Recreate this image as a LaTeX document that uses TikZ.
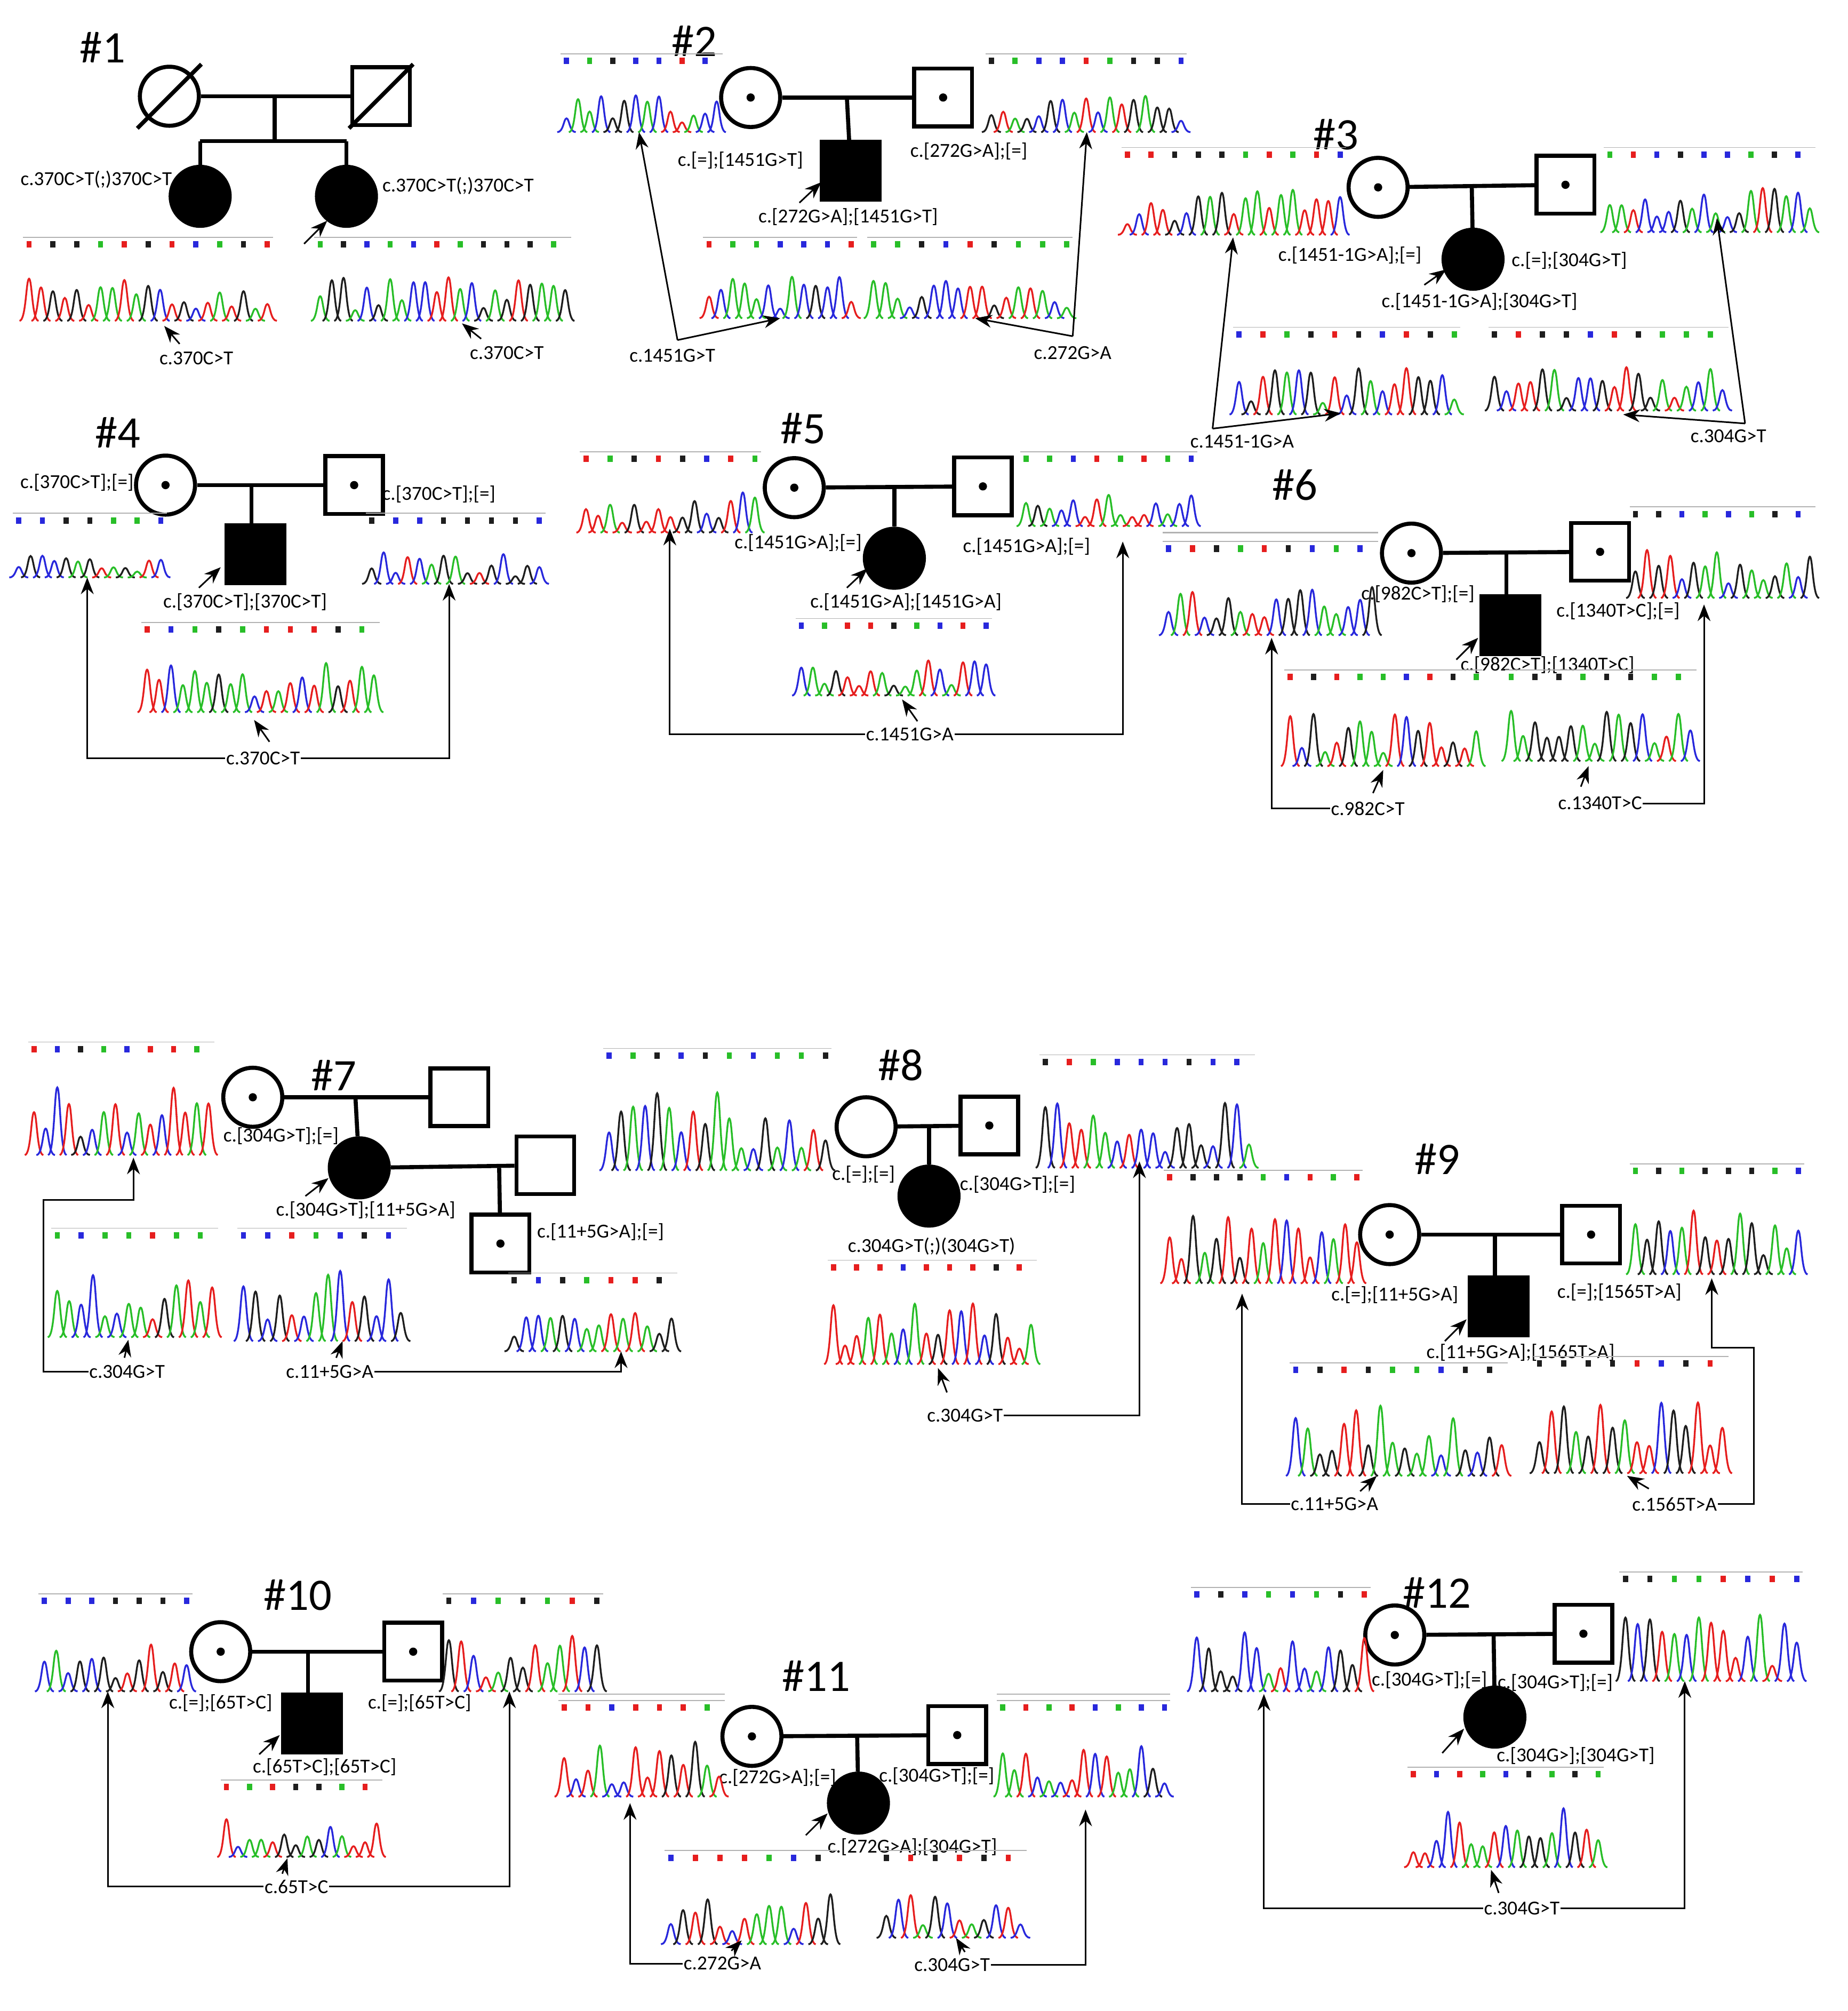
\documentclass[tikz,border=0pt]{standalone}
\usepackage{fontspec}
\setmainfont{Carlito}
\usetikzlibrary{arrows.meta}
\begin{document}
\begin{tikzpicture}[x=0.1mm,y=-0.1mm,
 fem/.style={circle,draw,minimum size=4.6mm,inner sep=0,line width=0.9pt},
 mal/.style={rectangle,draw,minimum size=4.5mm,inner sep=0,line width=0.9pt},
 aff/.style={fill=black},
 ln/.style={line width=0.9pt},
 txt/.style={font=\fontsize{4.4}{5}\selectfont,inner sep=0},
 big/.style={font=\fontsize{10}{12}\selectfont,inner sep=0},
 arr/.style={line width=0.35pt,-{Stealth[length=1.3mm,width=1mm]}},
 br/.style={line width=0.35pt}]
\useasboundingbox (0,0) rectangle (1440,1567);
\fill[white] (0,0) rectangle (1440,1567);
\definecolor{cA}{RGB}{40,190,40}\definecolor{cC}{RGB}{40,40,220}
\definecolor{cG}{RGB}{30,30,30}\definecolor{cT}{RGB}{230,30,30}
\newcommand\chrom[5]{%
 \pgfmathsetseed{#5}%
 \pgfmathsetmacro\cw{#3-#1}%
 \pgfmathtruncatemacro\np{\cw/9}%
 \pgfmathsetmacro\dx{\cw/\np}%
 \draw[gray!60,line width=0.2pt] (#1,#2-3) -- (#3,#2-3);
 \foreach \i in {1,...,\np}{%
   \pgfmathsetmacro\px{#1+(\i-0.5)*\dx}%
   \pgfmathtruncatemacro\ci{random(1,4)}%
   \pgfmathsetmacro\ht{(#4-#2-24)*(0.2+0.7*rnd)}%
   \ifcase\ci\or\def\cc{cA}\or\def\cc{cC}\or\def\cc{cG}\or\def\cc{cT}\fi
   \draw[\cc,line width=0.4pt] (\px-\dx*0.8,#4) .. controls (\px-\dx*0.25,#4) and (\px-\dx*0.25,#4-\ht) .. (\px,#4-\ht) .. controls (\px+\dx*0.25,#4-\ht) and (\px+\dx*0.25,#4) .. (\px+\dx*0.8,#4);
   \pgfmathtruncatemacro\sk{mod(\i,2)}%
   \ifnum\sk=1 \fill[\cc] (\px-2,#2) rectangle +(4,5);\fi
 }}
\newcommand\dotc[1]{\fill (#1) circle (3.2);}
% ---------- #1
\node[big] at (80,37) {\#1};
\node[fem] (p1a) at (132,75) {};\node[mal] (p1b) at (297,75) {};
\draw[ln] (107,100) -- (157,50); \draw[ln] (272,100) -- (322,50);
\node[fem,aff] (c1a) at (156,153) {};\node[fem,aff] (c1b) at (270,153) {};
\draw[ln] (p1a) -- (p1b); \draw[ln] (214,75) -- (214,110); \draw[ln] (156,110) -- (270,110);
\draw[ln] (156,110) -- (c1a); \draw[ln] (270,110) -- (c1b);
\node[txt] at (75,140) {c.370C>T(;)370C>T};\node[txt] at (357,145) {c.370C>T(;)370C>T};
\draw[arr] (237,190) -- (255,172);
\chrom{18}{188}{213}{250}{11}\chrom{245}{188}{445}{250}{12}
\node[txt] at (153,279) {c.370C>T};\draw[arr] (140,268) -- (128,254);
\node[txt] at (395,275) {c.370C>T};\draw[arr] (375,264) -- (360,252);
% ---------- #2
\node[big] at (541,32) {\#2};
\node[fem] (p2a) at (585,76) {};\node[mal] (p2b) at (735,76) {};\dotc{p2a}\dotc{p2b}
\node[mal,aff] (c2) at (663,133) {};
\draw[ln] (p2a) -- (p2b); \draw[ln] (660,76) -- (c2);
\node[txt] at (577,125) {c.[=];[1451G>T]};\node[txt] at (755,118) {c.[272G>A];[=]};
\node[txt] at (661,169) {c.[272G>A];[1451G>T]};\draw[arr] (623,158) -- (640,142);
\chrom{437}{45}{563}{103}{21}\chrom{768}{45}{925}{103}{22}\chrom{548}{188}{668}{248}{23}\chrom{676}{188}{836}{248}{24}
\node[txt] at (524,277) {c.1451G>T};\draw[arr] (528,265) -- (498,103);\draw[arr] (528,265) -- (608,248);
\node[txt] at (836,275) {c.272G>A};\draw[arr] (836,262) -- (760,248);\draw[arr] (836,262) -- (847,103);
% ---------- #3
\node[big] at (1041,105) {\#3};
\node[fem] (p3a) at (1074,146) {};\node[mal] (p3b) at (1220,144) {};\dotc{p3a}\dotc{p3b}
\node[fem,aff] (c3) at (1148,202) {};
\draw[ln] (p3a) -- (p3b); \draw[ln] (1147,145) -- (c3);
\node[txt] at (1052,199) {c.[1451-1G>A];[=]};\node[txt] at (1223,203) {c.[=];[304G>T]};
\node[txt] at (1153,235) {c.[1451-1G>A];[304G>T]};\draw[arr] (1110,222) -- (1127,210);
\chrom{874}{118}{1049}{183}{31}\chrom{1250}{118}{1415}{181}{32}\chrom{961}{258}{1138}{323}{33}\chrom{1160}{258}{1347}{320}{34}
\node[txt] at (968,344) {c.1451-1G>A};\draw[arr] (945,334) -- (961,185);\draw[arr] (945,334) -- (1045,322);
\node[txt] at (1347,340) {c.304G>T};\draw[arr] (1360,330) -- (1265,323);\draw[arr] (1360,330) -- (1338,170);
% ---------- #4
\node[big] at (92,337) {\#4};
\node[fem] (p4a) at (129,378) {};\node[mal] (p4b) at (276,378) {};\dotc{p4a}\dotc{p4b}
\node[mal,aff] (c4) at (199,432) {};
\draw[ln] (p4a) -- (p4b); \draw[ln] (196,378) -- (196,409);
\node[txt] at (60,376) {c.[370C>T];[=]};\node[txt] at (342,385) {c.[370C>T];[=]};
\node[txt] at (191,469) {c.[370C>T];[370C>T]};\draw[arr] (155,458) -- (172,442);
\chrom{10}{403}{130}{450}{41}\chrom{285}{403}{425}{455}{42}\chrom{110}{488}{296}{555}{43}
\node[txt] (t4) at (205,591) {c.370C>T};\draw[arr] (210,578) -- (198,561);
\draw[br,arr] (t4.west) -- (68,591) -- (68,450);\draw[br,arr] (t4.east) -- (350,591) -- (350,455);
% ---------- #5
\node[big] at (626,334) {\#5};
\node[fem] (p5a) at (619,380) {};\node[mal] (p5b) at (766,379) {};\dotc{p5a}\dotc{p5b}
\node[fem,aff] (c5) at (697,435) {};
\draw[ln] (p5a) -- (p5b); \draw[ln] (697,380) -- (c5);
\node[txt] at (622,423) {c.[1451G>A];[=]};\node[txt] at (800,426) {c.[1451G>A];[=]};
\node[txt] at (706,469) {c.[1451G>A];[1451G>A]};\draw[arr] (660,458) -- (676,443);
\chrom{452}{355}{593}{415}{51}\chrom{795}{355}{933}{410}{52}\chrom{620}{485}{773}{542}{53}
\node[txt] (t5) at (709,572) {c.1451G>A};\draw[arr] (715,562) -- (703,545);
\draw[br,arr] (t5.west) -- (522,572) -- (522,412);\draw[br,arr] (t5.east) -- (875,572) -- (875,422);
% ---------- #6
\node[big] at (1009,378) {\#6};
\node[fem] (p6a) at (1100,431) {};\node[mal] (p6b) at (1247,430) {};\dotc{p6a}\dotc{p6b}
\node[mal,aff] (c6) at (1177,487) {};
\draw[ln] (p6a) -- (p6b); \draw[ln] (1174,431) -- (1174,464);
\node[txt] at (1105,463) {c.[982C>T];[=]};\node[txt] at (1261,476) {c.[1340T>C];[=]};
\node[txt] at (1206,518) {c.[982C>T];[1340T>C]};\draw[arr] (1135,514) -- (1152,497);
\draw[gray!60,line width=0.3pt] (906,415) -- (1074,415);
\chrom{906}{425}{1074}{495}{61}\chrom{1270}{398}{1415}{466}{62}\chrom{1001}{525}{1155}{597}{63}\chrom{1173}{525}{1322}{593}{64}
\node[txt] (t6a) at (1066,630) {c.982C>T};\draw[arr] (1070,618) -- (1078,600);
\draw[br,arr] (t6a.west) -- (991,630) -- (991,497);
\node[txt] (t6b) at (1247,626) {c.1340T>C};\draw[arr] (1232,613) -- (1238,597);
\draw[br,arr] (t6b.east) -- (1328,626) -- (1328,471);
% ---------- #7
\node[big] at (260,838) {\#7};
\node[fem] (p7a) at (197,855) {};\node[mal] (p7b) at (358,855) {};\dotc{p7a}
\node[fem,aff] (c7) at (280,910) {};\node[mal] (s7) at (425,908) {};
\node[mal] (g7) at (390,969) {};\dotc{g7}
\draw[ln] (p7a) -- (p7b); \draw[ln] (277,855) -- (c7); \draw[ln] (c7) -- (s7);
\draw[ln] (389,910) -- (g7);
\node[txt] at (219,885) {c.[304G>T];[=]};\node[txt] at (285,943) {c.[304G>T];[11+5G>A]};
\node[txt] at (468,960) {c.[11+5G>A];[=]};\draw[arr] (238,932) -- (256,918);
\chrom{22}{815}{167}{900}{71}\chrom{40}{960}{170}{1042}{72}\chrom{185}{960}{317}{1045}{73}\chrom{396}{995}{528}{1053}{74}
\node[txt] (t7a) at (99,1069) {c.304G>T};\draw[arr] (97,1058) -- (100,1044);
\draw[br,arr] (t7a.west) -- (34,1069) -- (34,935) -- (104,935) -- (104,902);
\node[txt] (t7b) at (257,1069) {c.11+5G>A};\draw[arr] (262,1058) -- (267,1045);
\draw[br,arr] (t7b.east) -- (484,1069) -- (484,1053);
% ---------- #8
\node[big] at (702,830) {\#8};
\node[fem] (p8a) at (675,878) {};\node[mal] (p8b) at (771,877) {};\dotc{p8b}
\node[fem,aff] (c8) at (724,932) {};
\draw[ln] (p8a) -- (p8b); \draw[ln] (724,877) -- (c8);
\node[txt] at (673,915) {c.[=];[=]};\node[txt] at (793,923) {c.[304G>T];[=]};
\node[txt] at (726,971) {c.304G>T(;)(304G>T)};
\chrom{470}{820}{648}{912}{81}\chrom{810}{825}{978}{910}{82}\chrom{645}{985}{808}{1063}{83}
\node[txt] (t8) at (752,1103) {c.304G>T};\draw[arr] (738,1085) -- (731,1066);
\draw[br,arr] (t8.east) -- (888,1103) -- (888,905);
% ---------- #9
\node[big] at (1120,903) {\#9};
\node[fem] (p9a) at (1083,962) {};\node[mal] (p9b) at (1240,962) {};\dotc{p9a}\dotc{p9b}
\node[mal,aff] (c9) at (1168,1018) {};
\draw[ln] (p9a) -- (p9b); \draw[ln] (1165,962) -- (1165,995);
\node[txt] at (1087,1009) {c.[=];[11+5G>A]};\node[txt] at (1262,1007) {c.[=];[1565T>A]};
\node[txt] at (1185,1054) {c.[11+5G>A];[1565T>A]};\draw[arr] (1126,1045) -- (1143,1028);
\chrom{907}{915}{1062}{1000}{91}\chrom{1270}{910}{1406}{993}{92}\chrom{1005}{1065}{1175}{1150}{93}\chrom{1195}{1060}{1347}{1148}{94}
\node[txt] (t9a) at (1040,1172) {c.11+5G>A};\draw[arr] (1060,1162) -- (1073,1150);
\draw[br,arr] (t9a.west) -- (968,1172) -- (968,1008);
\node[txt] (t9b) at (1305,1172) {c.1565T>A};\draw[arr] (1285,1160) -- (1268,1150);
\draw[br,arr] (t9b.east) -- (1367,1172) -- (1367,1050) -- (1334,1050) -- (1334,996);
% ---------- #10
\node[big] at (232,1243) {\#10};
\node[fem] (p10a) at (172,1287) {};\node[mal] (p10b) at (322,1287) {};\dotc{p10a}\dotc{p10b}
\node[mal,aff] (c10) at (243,1343) {};
\draw[ln] (p10a) -- (p10b); \draw[ln] (240,1287) -- (240,1320);
\node[txt] at (172,1327) {c.[=];[65T>C]};\node[txt] at (327,1327) {c.[=];[65T>C]};
\node[txt] at (253,1377) {c.[65T>C];[65T>C]};\draw[arr] (202,1367) -- (218,1352);
\chrom{30}{1245}{150}{1318}{101}\chrom{345}{1245}{470}{1318}{102}\chrom{172}{1390}{298}{1447}{103}
\node[txt] (t10) at (231,1470) {c.65T>C};\draw[arr] (220,1460) -- (224,1448);
\draw[br,arr] (t10.west) -- (84,1470) -- (84,1318);\draw[br,arr] (t10.east) -- (397,1470) -- (397,1318);
% ---------- #11
\node[big] at (636,1306) {\#11};
\node[fem] (p11a) at (586,1353) {};\node[mal] (p11b) at (746,1352) {};\dotc{p11a}\dotc{p11b}
\node[fem,aff] (c11) at (669,1405) {};
\draw[ln] (p11a) -- (p11b); \draw[ln] (668,1352) -- (c11);
\node[txt] at (606,1385) {c.[272G>A];[=]};\node[txt] at (730,1384) {c.[304G>T];[=]};
\node[txt] at (711,1439) {c.[272G>A];[304G>T]};\draw[arr] (628,1430) -- (645,1413);
\draw[gray!60,line width=0.3pt] (435,1320) -- (565,1320);\draw[gray!60,line width=0.3pt] (777,1320) -- (912,1320);
\chrom{435}{1328}{565}{1400}{111}\chrom{777}{1328}{912}{1400}{112}\chrom{518}{1445}{652}{1515}{113}\chrom{686}{1445}{800}{1510}{114}
\node[txt] (t11a) at (563,1530) {c.272G>A};\draw[arr] (570,1520) -- (578,1512);
\draw[br,arr] (t11a.west) -- (491,1530) -- (491,1405);
\node[txt] (t11b) at (742,1531) {c.304G>T};\draw[arr] (752,1521) -- (745,1510);
\draw[br,arr] (t11b.east) -- (846,1531) -- (846,1410);
% ---------- #12
\node[big] at (1120,1241) {\#12};
\node[fem] (p12a) at (1087,1274) {};\node[mal] (p12b) at (1234,1273) {};\dotc{p12a}\dotc{p12b}
\node[fem,aff] (c12) at (1165,1338) {};
\draw[ln] (p12a) -- (p12b); \draw[ln] (1164,1273) -- (c12);
\node[txt] at (1114,1309) {c.[304G>T];[=]};\node[txt] at (1212,1311) {c.[304G>T];[=]};
\node[txt] at (1228,1368) {c.[304G>];[304G>T]};\draw[arr] (1124,1366) -- (1141,1347);
\chrom{928}{1240}{1068}{1318}{121}\chrom{1262}{1228}{1405}{1310}{122}\chrom{1097}{1380}{1250}{1455}{123}
\node[txt] (t12) at (1186,1487) {c.304G>T};\draw[arr] (1168,1475) -- (1162,1457);
\draw[br,arr] (t12.west) -- (985,1487) -- (985,1320);\draw[br,arr] (t12.east) -- (1313,1487) -- (1313,1310);
\end{tikzpicture}
\end{document}
